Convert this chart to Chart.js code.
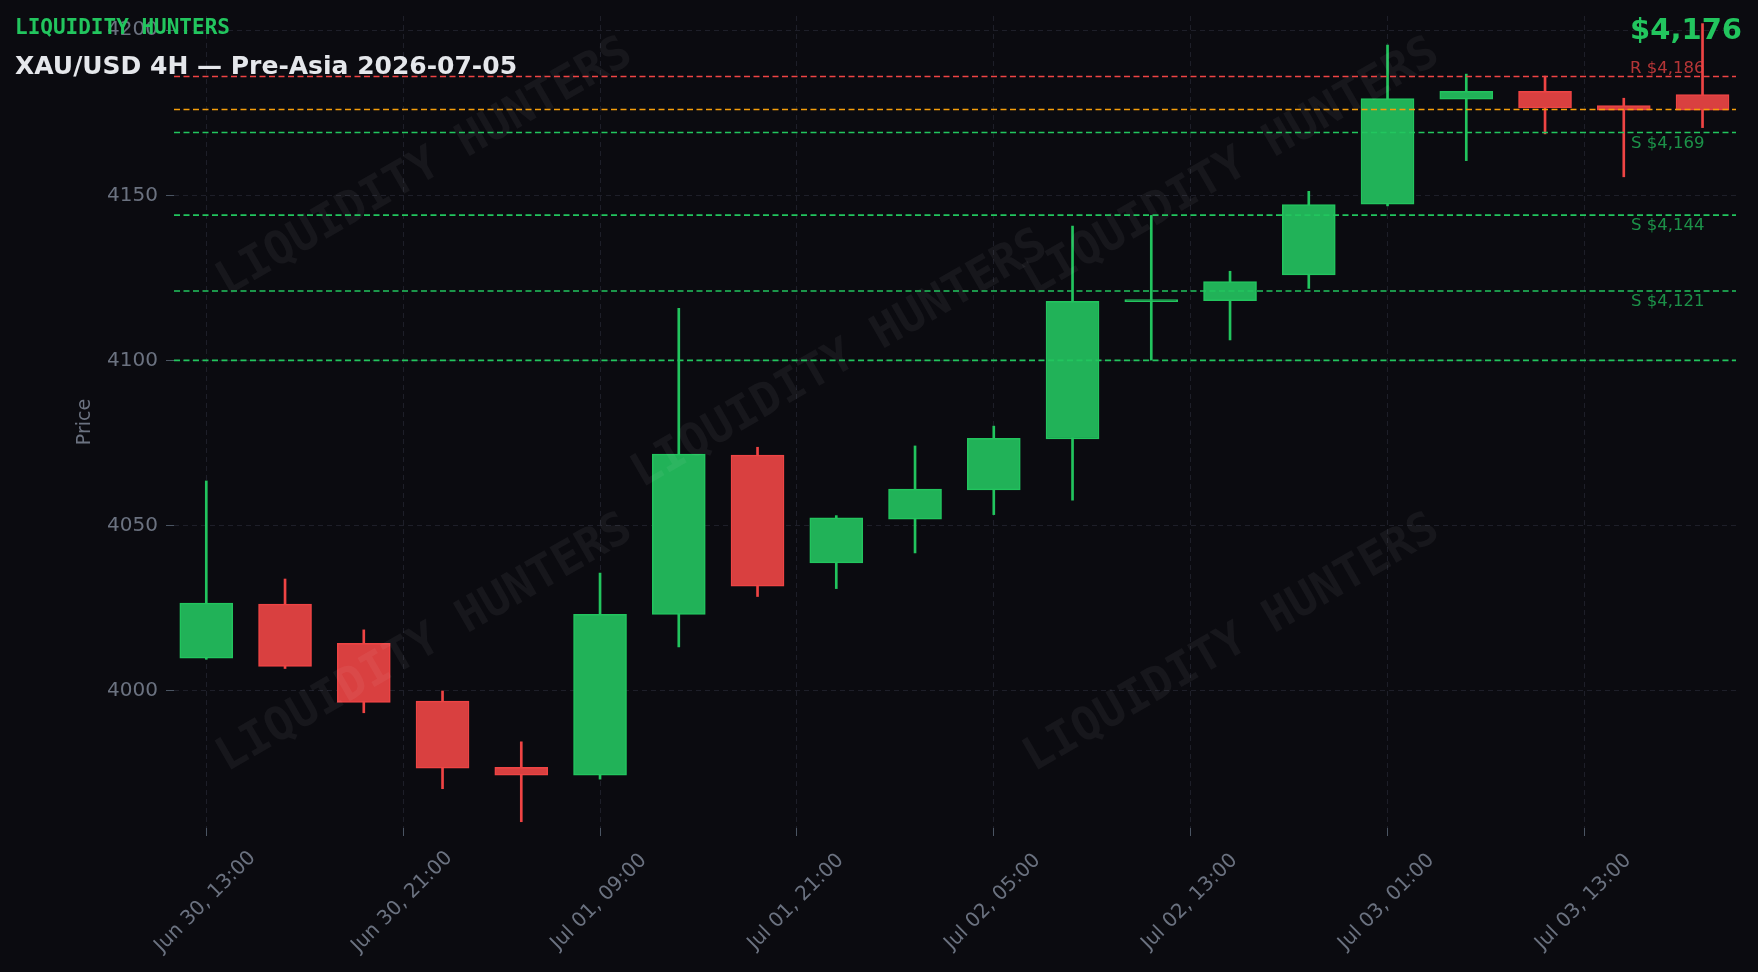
<!DOCTYPE html>
<html>
<head>
<meta charset="utf-8">
<script src="https://cdn.jsdelivr.net/npm/chart.js@4.4.1/dist/chart.umd.min.js"></script>
<style>
  html, body { margin: 0; padding: 0; background: #0b0b10; }
  canvas { display: block; }
</style>
</head>
<body>
<canvas id="chart" width="1758" height="972"></canvas>
<script>
// XAU/USD 4H candles (index along x)
const candleIdx = [0, 1, 2, 3, 4, 5, 6, 7, 8, 9, 10, 11, 12, 13, 14, 15, 16, 17, 18, 19]
const opens  = [4009.8, 4026.2, 4014.3, 3996.8, 3976.8, 3974.4, 4023.1, 4071.3, 4038.7, 4051.9, 4060.8, 4076.2, 4117.8, 4118.1, 4125.9, 4147.3, 4179.1, 4181.5, 4177.2, 4180.5]
const highs  = [4063.5, 4033.8, 4018.4, 3999.9, 3984.5, 4035.6, 4115.8, 4073.7, 4053.0, 4074.1, 4080.1, 4140.7, 4143.9, 4127.0, 4151.2, 4195.5, 4186.7, 4186.1, 4179.4, 4202.0]
const lows   = [4009.5, 4006.7, 3993.3, 3970.3, 3960.3, 3973.2, 4013.2, 4028.5, 4030.9, 4041.7, 4053.3, 4057.7, 4100.1, 4106.2, 4121.8, 4146.8, 4160.5, 4168.6, 4155.6, 4170.5]
const closes = [4026.5, 4007.3, 3996.4, 3976.5, 3974.4, 4023.1, 4071.6, 4031.6, 4052.3, 4061.0, 4076.4, 4117.9, 4118.4, 4123.9, 4147.2, 4179.3, 4181.5, 4176.5, 4175.8, 4175.8]

const xTickPos = [0, 2.5, 5, 7.5, 10, 12.5, 15, 17.5]
const xTickLabels = ['Jun 30, 13:00', 'Jun 30, 21:00', 'Jul 01, 09:00', 'Jul 01, 21:00', 'Jul 02, 05:00', 'Jul 02, 13:00', 'Jul 03, 01:00', 'Jul 03, 13:00']
const yTicks = [4000, 4050, 4100, 4150, 4200]

// key levels: R = resistance, P = current price, S = support
const levels = [4186, 4176, 4169, 4144, 4121, 4100]
const levelKinds = ['R', 'P', 'S', 'S', 'S', 'S']
const levelLabels = ['R $4,186', '', 'S $4,169', 'S $4,144', 'S $4,121', '']
const lastPrice = '$4,176'

const GREEN = '#22c55e'
const RED = '#ef4444'
const up = candleIdx.map(i => closes[i] >= opens[i])

const bgPlugin = {
  id: 'bg',
  beforeDraw(chart) {
    const ctx = chart.ctx
    ctx.save()
    ctx.fillStyle = '#0b0b10'
    ctx.fillRect(0, 0, chart.width, chart.height)
    ctx.restore()
  }
}

const overlayPlugin = {
  id: 'overlay',
  afterDatasetsDraw(chart) {
    const { ctx, chartArea, scales: { y } } = chart
    ctx.save()

    // watermark
    ctx.font = 'bold 46px "DejaVu Sans Mono"'
    ctx.fillStyle = 'rgba(255,255,255,0.05)'
    ctx.textAlign = 'center'
    ctx.textBaseline = 'middle'
    ;[[425, 168], [840, 360], [1232, 168], [425, 644], [1232, 644]].forEach(([wx, wy]) => {
      ctx.save()
      ctx.translate(wx, wy)
      ctx.rotate(-30 * Math.PI / 180)
      ctx.fillText('LIQUIDITY HUNTERS', 0, 0)
      ctx.restore()
    })

    // level lines
    ctx.lineWidth = 1.6
    ctx.setLineDash([6, 3.5])
    levels.forEach((v, i) => {
      const py = y.getPixelForValue(v)
      const k = levelKinds[i]
      ctx.strokeStyle = k === 'R' ? RED : (k === 'P' ? '#f59e0b' : GREEN)
      ctx.beginPath()
      ctx.moveTo(chartArea.left, py)
      ctx.lineTo(chartArea.right, py)
      ctx.stroke()
    })
    ctx.setLineDash([])

    ctx.font = '16.5px "DejaVu Sans"'
    ctx.textAlign = 'right'
    ctx.textBaseline = 'alphabetic'
    levels.forEach((v, i) => {
      if (!levelLabels[i]) return
      const py = y.getPixelForValue(v)
      if (levelKinds[i] === 'R') {
        ctx.fillStyle = 'rgba(239,68,68,0.75)'
        ctx.fillText(levelLabels[i], chartArea.right - 31.5, py - 3.5)
      } else {
        ctx.fillStyle = 'rgba(34,197,94,0.72)'
        ctx.fillText(levelLabels[i], chartArea.right - 31.5, py + 15)
      }
    })
    ctx.restore()
  },
  afterDraw(chart) {
    const { ctx, scales: { x } } = chart
    ctx.save()

    // rotated x labels, centred on their tick
    ctx.font = '20px "DejaVu Sans"'
    ctx.fillStyle = '#6b7280'
    ctx.textAlign = 'center'
    ctx.textBaseline = 'middle'
    x.ticks.forEach((t, i) => {
      const px = x.getPixelForValue(t.value)
      ctx.save()
      ctx.translate(px - 1, 902)
      ctx.rotate(-Math.PI / 4)
      ctx.fillText(xTickLabels[i], 0, 0)
      ctx.restore()
    })

    // titles
    ctx.textAlign = 'left'
    ctx.textBaseline = 'alphabetic'
    ctx.font = 'bold 21px "DejaVu Sans Mono"'
    ctx.fillStyle = GREEN
    ctx.fillText('LIQUIDITY HUNTERS', 15, 33.5)
    ctx.font = 'bold 25px "DejaVu Sans"'
    ctx.fillStyle = '#e5e7eb'
    ctx.fillText('XAU/USD 4H — Pre-Asia 2026-07-05', 15, 73.5)
    ctx.textAlign = 'right'
    ctx.font = 'bold 29px "DejaVu Sans"'
    ctx.fillStyle = GREEN
    ctx.fillText(lastPrice, 1742, 38.5)
    ctx.restore()
  }
}

const ctx = document.getElementById('chart').getContext('2d')
new Chart(ctx, {
  type: 'bar',
  data: {
    datasets: [
      {
        label: 'body',
        order: 0,
        data: candleIdx.map(i => ({ x: i, y: [opens[i], closes[i]] })),
        backgroundColor: up.map(u => u ? '#21b258' : '#d94040'),
        borderColor: up.map(u => u ? GREEN : RED),
        borderWidth: 1.5,
        borderSkipped: false,
        grouped: false,
        barPercentage: 1,
        categoryPercentage: 1,
        maxBarThickness: 53
      },
      {
        label: 'wick',
        order: 1,
        data: candleIdx.map(i => ({ x: i, y: [lows[i], highs[i]] })),
        backgroundColor: up.map(u => u ? GREEN : RED),
        borderWidth: 0,
        grouped: false,
        barPercentage: 1,
        categoryPercentage: 1,
        maxBarThickness: 2
      }
    ]
  },
  options: {
    responsive: false,
    animation: false,
    events: [],
    layout: { padding: { top: 16, right: 22, bottom: 0, left: 0 } },
    plugins: { legend: { display: false }, tooltip: { enabled: false } },
    scales: {
      x: {
        type: 'linear',
        min: -0.41,
        max: 19.425,
        offset: false,
        afterBuildTicks: s => { s.ticks = xTickPos.map(v => ({ value: v })) },
        afterFit: s => { s.height = 144; s.paddingLeft = 0; s.paddingRight = 0 },
        ticks: { display: false },
        grid: { offset: false, color: '#1e1f29', lineWidth: 1, tickLength: 8, tickColor: '#4b5563', tickBorderDash: [] },
        border: { display: false, dash: [5, 4] }
      },
      y: {
        min: 3958.4,
        max: 4204.3,
        afterBuildTicks: s => { s.ticks = yTicks.map(v => ({ value: v })) },
        afterFit: s => { s.width = 174; s.paddingTop = 0; s.paddingBottom = 0 },
        ticks: { color: '#6b7280', font: { family: 'DejaVu Sans', size: 20 }, padding: 8, callback: v => String(v) },
        grid: { color: '#1e1f29', lineWidth: 1, tickLength: 8, tickColor: '#4b5563', tickBorderDash: [] },
        border: { display: false, dash: [5, 4] },
        title: { display: true, text: 'Price', color: '#6b7280', font: { family: 'DejaVu Sans', size: 19 }, padding: { top: 74, bottom: 0 } }
      }
    }
  },
  plugins: [bgPlugin, overlayPlugin]
})
</script>
</body>
</html>
